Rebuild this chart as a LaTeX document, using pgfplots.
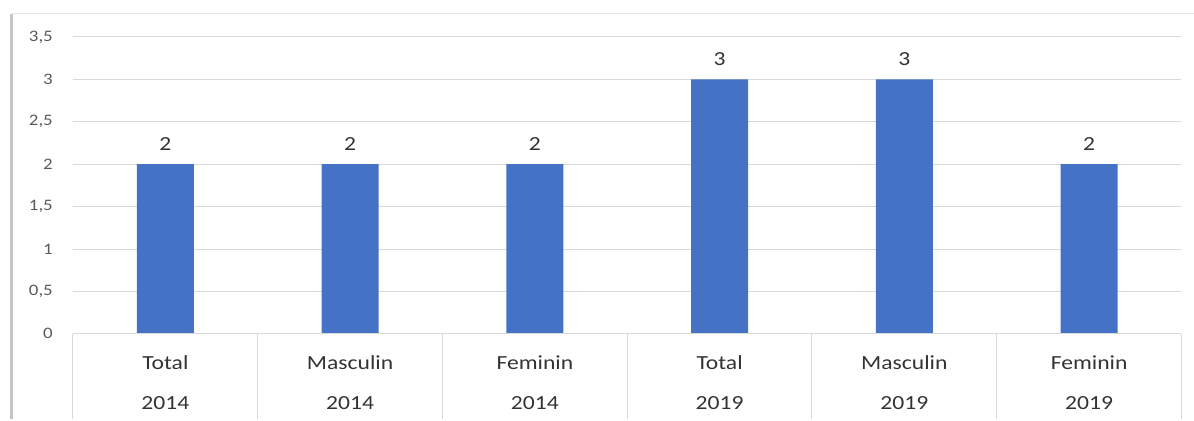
\documentclass[border=0pt]{standalone}
\usepackage{fontspec}
\setmainfont{Carlito}[FakeStretch=1.18]
\usepackage{pgfplots}
\pgfplotsset{compat=1.18}
\definecolor{barblue}{HTML}{4472C4}
\definecolor{txt}{HTML}{333333}
\definecolor{ticktxt}{HTML}{595959}
\definecolor{gridc}{HTML}{D9D9D9}
\begin{document}
\begin{tikzpicture}
\begin{axis}[
  name=main,
  at={(0,0)}, anchor=origin,
  scale only axis,
  width=1109pt, height=297pt,
  xmin=-0.5, xmax=5.5, ymin=0, ymax=3.5,
  ybar, bar width=57pt,
  clip=false,
  axis line style={draw=none},
  tick style={draw=none},
  ymajorgrids, major grid style={gridc, line width=1pt},
  ytick={0,0.5,...,3.5},
  /pgf/number format/use comma,
  /pgf/number format/assume math mode=true,
  yticklabel style={font=\fontsize{16}{18}\selectfont, text=ticktxt, inner sep=0pt, xshift=-20pt},
  xtick={0,1,2,3,4,5},
  xticklabels={{Total\\2014},{Masculin\\2014},{Feminin\\2014},{Total\\2019},{Masculin\\2019},{Feminin\\2019}},
  xticklabel style={font=\fontsize{20}{40}\selectfont, text=txt, align=center, anchor=north, inner sep=0pt, yshift=-17pt},
  nodes near coords,
  nodes near coords style={font=\fontsize{20}{22}\selectfont, text=txt, anchor=south, inner sep=0pt, yshift=14pt},
]
\addplot[fill=barblue, draw=none] coordinates {(0,2) (1,2) (2,2) (3,3) (4,3) (5,2)};
\draw[gridc, line width=1pt] (axis cs:-0.5,0) -- (axis cs:5.5,0);
\pgfplotsinvokeforeach{-0.5,0.5,1.5,2.5,3.5,4.5,5.5}{
  \draw[gridc, line width=1pt] (axis cs:#1,0) -- ([yshift=-85pt]axis cs:#1,0);
}
\coordinate (O) at (axis cs:-0.5,0);
\end{axis}
\draw[gray!45, line width=3pt] ([shift={(-61pt,-85pt)}]O) -- ([shift={(-61pt,320pt)}]O);
\draw[gray!20, line width=1pt] ([shift={(-61pt,320pt)}]O) -- ([shift={(1121pt,320pt)}]O);
\path[use as bounding box] ([shift={(-73pt,-85pt)}]O) rectangle ([shift={(1121pt,334pt)}]O);
\end{tikzpicture}
\end{document}
